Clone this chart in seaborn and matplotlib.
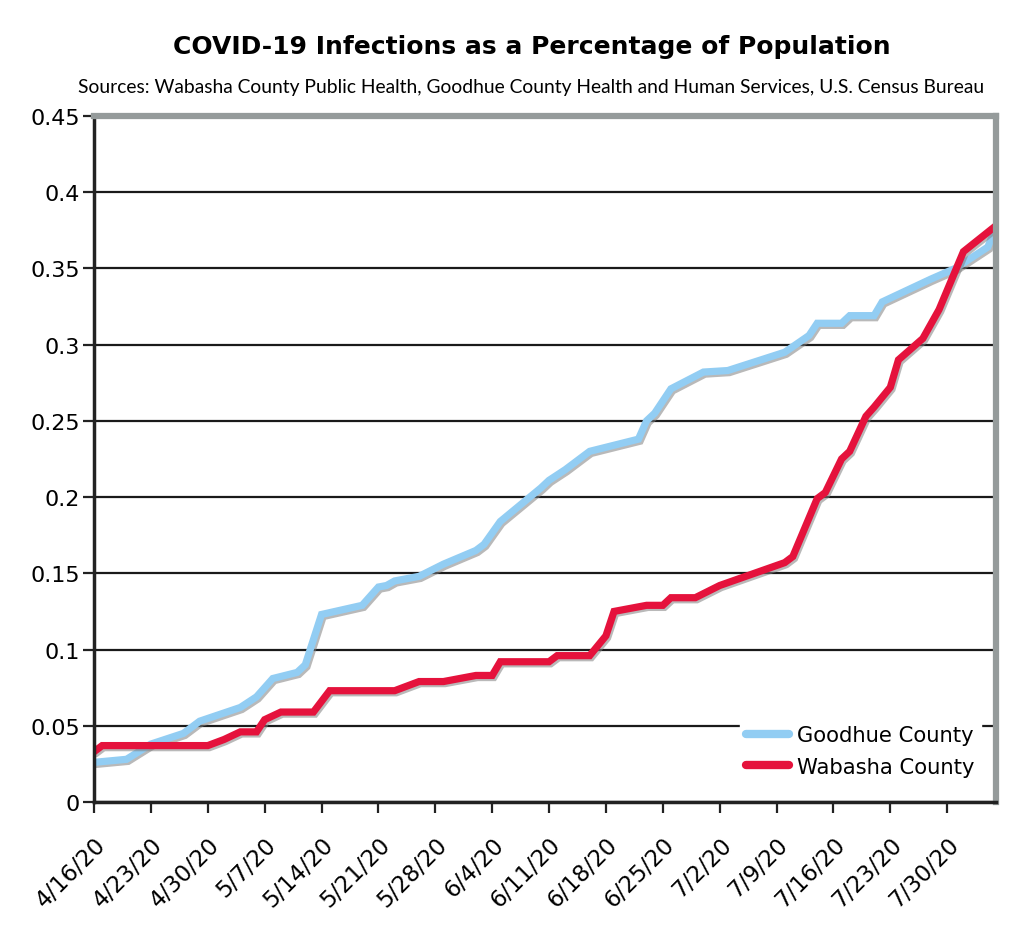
import pandas as pd
import numpy as np
import matplotlib
matplotlib.use('Agg')
import matplotlib.pyplot as plt
import matplotlib.patheffects as pe
import seaborn as sns

sns.set_style('white')
plt.rcParams['font.family'] = 'DejaVu Sans'
plt.rcParams['text.color'] = 'black'
plt.rcParams['xtick.color'] = 'black'
plt.rcParams['ytick.color'] = 'black'

# ---------- data ----------
START = pd.Timestamp('2020-04-16')

goodhue_day = [0, 4, 7, 11, 13, 18, 20, 22, 25, 26, 28, 33, 35, 36, 37, 40, 43, 47, 48, 50,
               55, 56, 58, 61, 64, 67, 68, 69, 71, 75, 78, 85, 88, 89, 92, 93, 96, 97, 103,
               106, 110, 111]
goodhue_pct = [0.026, 0.028, 0.038, 0.045, 0.053, 0.062, 0.069, 0.081, 0.085, 0.090, 0.123,
               0.129, 0.141, 0.142, 0.145, 0.148, 0.156, 0.165, 0.169, 0.184, 0.206, 0.211,
               0.218, 0.230, 0.234, 0.238, 0.250, 0.255, 0.271, 0.282, 0.283, 0.295, 0.306,
               0.314, 0.314, 0.319, 0.319, 0.328, 0.343, 0.350, 0.364, 0.377]

wabasha_day = [0, 1, 14, 16, 18, 20, 21, 23, 27, 29, 37, 40, 43, 47, 49, 50, 56, 57, 61, 63,
               64, 68, 70, 71, 74, 77, 85, 86, 89, 90, 92, 93, 95, 96, 98, 99, 102, 104, 107,
               111]
wabasha_pct = [0.033, 0.037, 0.037, 0.041, 0.046, 0.046, 0.054, 0.059, 0.059, 0.073, 0.073,
               0.079, 0.079, 0.083, 0.083, 0.092, 0.092, 0.096, 0.096, 0.109, 0.125, 0.129,
               0.129, 0.134, 0.134, 0.142, 0.157, 0.161, 0.199, 0.203, 0.225, 0.230, 0.253,
               0.259, 0.272, 0.290, 0.304, 0.323, 0.361, 0.378]

counties = ['Goodhue County', 'Wabasha County']
colors = {'Goodhue County': '#92CDF3', 'Wabasha County': '#E5123C'}

df = pd.concat([
    pd.DataFrame({'date': START + pd.to_timedelta(goodhue_day, unit='D'),
                  'pct': goodhue_pct, 'county': counties[0]}),
    pd.DataFrame({'date': START + pd.to_timedelta(wabasha_day, unit='D'),
                  'pct': wabasha_pct, 'county': counties[1]}),
], ignore_index=True)

# ---------- figure ----------
fig = plt.figure(figsize=(10.31, 9.28), dpi=100)
ax = fig.add_axes([0.0912, 0.1347, 0.8748, 0.7393])

sns.lineplot(data=df, x='date', y='pct', hue='county', hue_order=counties,
             palette=colors, linewidth=5.2, ax=ax, estimator=None, sort=True)

shadow = [pe.SimpleLineShadow(offset=(1.2, -1.5), shadow_color='#808080', alpha=0.55),
          pe.Normal()]
for ln in ax.lines:
    ln.set_path_effects(shadow)
    ln.set_solid_joinstyle('miter')

ax.set_ylim(0, 0.45)
ax.set_yticks(np.arange(0, 0.451, 0.05))
ax.set_yticklabels(['0', '0.05', '0.1', '0.15', '0.2', '0.25', '0.3', '0.35', '0.4', '0.45'],
                   fontsize=16)
ax.yaxis.grid(True, color='#1a1a1a', linewidth=1.6)
ax.set_axisbelow(True)

ax.set_xlim(START, START + pd.Timedelta(days=111))
ticks = pd.date_range(START, '2020-07-30', freq='7D')
ax.set_xticks(ticks)
ax.set_xticklabels([f'{d.month}/{d.day}/20' for d in ticks], rotation=45, ha='right',
                   rotation_mode='anchor', fontsize=16.5)

ax.tick_params(axis='both', direction='out', length=8, width=1.6, color='#222222',
               left=True, bottom=True)
ax.tick_params(axis='x', pad=14)
ax.tick_params(axis='y', pad=2)
ax.set_xlabel('')
ax.set_ylabel('')

for side in ['left', 'bottom']:
    ax.spines[side].set_color('#222222')
    ax.spines[side].set_linewidth(2.5)
for side in ['top', 'right']:
    ax.spines[side].set_color('#959b9b')
    ax.spines[side].set_linewidth(4.5)

leg = ax.legend(loc='lower right', bbox_to_anchor=(0.995, 0.012), frameon=True,
                fontsize=15.2, handlelength=2.0, handletextpad=0.4, labelspacing=0.55,
                borderpad=0.3)
leg.get_frame().set_facecolor('white')
leg.get_frame().set_edgecolor('white')
leg.get_frame().set_alpha(1)
for h in leg.legend_handles:
    h.set_linewidth(6)
    h.set_path_effects([])

fig.text(0.516, 0.949, 'COVID-19 Infections as a Percentage of Population',
         ha='center', va='center', fontsize=18, fontweight='bold')
fig.text(0.515, 0.906, 'Sources: Wabasha County Public Health, Goodhue County Health and '
         'Human Services, U.S. Census Bureau', ha='center', va='center', fontsize=13.9,
         family='Lato')

plt.savefig('out.png', dpi=100)
plt.close()
